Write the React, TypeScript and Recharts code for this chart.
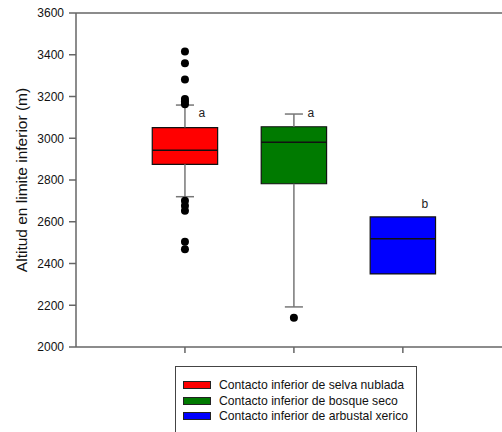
import React from "react";
import {
  ComposedChart,
  XAxis,
  YAxis,
  Scatter,
  ReferenceArea,
  ReferenceLine,
} from "recharts";

const FONT = "Arial, 'Liberation Sans', sans-serif";

// grupos (posición en el eje x = 1, 2, 3)
const groups = [
  "Contacto inferior de selva nublada",
  "Contacto inferior de bosque seco",
  "Contacto inferior de arbustal xerico",
];
const colors = ["#ff0000", "#007a00", "#0000ff"];
const positions = [1, 2, 3];

// resumen de cajas (m)
const q1 = [2875, 2782, 2350];
const median = [2942, 2981, 2519];
const q3 = [3051, 3055, 2623];
const whiskerLow = [2720, 2192, null];
const whiskerHigh = [3159, 3116, null];

// valores atípicos
const outliers = [
  { x: 1, y: 3415 },
  { x: 1, y: 3359 },
  { x: 1, y: 3282 },
  { x: 1, y: 3188 },
  { x: 1, y: 3176 },
  { x: 1, y: 3163 },
  { x: 1, y: 2701 },
  { x: 1, y: 2677 },
  { x: 1, y: 2653 },
  { x: 1, y: 2504 },
  { x: 1, y: 2468 },
  { x: 2, y: 2140 },
];

// letras de significancia
const letters = ["a", "a", "b"];
const letterY = [3121, 3121, 2685];

const yTicks = [2000, 2200, 2400, 2600, 2800, 3000, 3200, 3400, 3600];

const BOX_HALF = 0.3;
const CAP_HALF = 0.083;
const AXIS = "#666";
const WHISKER = "#777";

const letterData = letters.map((l, i) => ({ x: positions[i], y: letterY[i], label: l }));

function LetterShape(props: any) {
  const { cx, cy, payload } = props;
  const dx = payload.label === "b" ? 22 : 17;
  return (
    <text
      x={cx + dx}
      y={cy}
      fontSize={12}
      fontFamily={FONT}
      fill="#222"
      textAnchor="middle"
      dominantBaseline="central"
    >
      {payload.label}
    </text>
  );
}

function YLabel(props: any) {
  const vb = props.viewBox || { x: 0, y: 0, height: 0 };
  const x = 21;
  const y = vb.y + vb.height / 2;
  return (
    <text
      x={x}
      y={y}
      transform={`rotate(-90 ${x} ${y})`}
      textAnchor="middle"
      dominantBaseline="central"
      fontSize={15.5}
      fontFamily={FONT}
      fill="#111"
    >
      Altitud en limite inferior (m)
    </text>
  );
}

export default function App() {
  return (
    <div style={{ position: "absolute", left: 0, top: 0, width: 502, height: 432, background: "#fff" }}>
      <ComposedChart
        width={502}
        height={432}
        margin={{ top: 13, right: 0, bottom: 75, left: 0 }}
      >
        <XAxis
          type="number"
          dataKey="x"
          domain={[0, 3.91]}
          ticks={positions}
          tickFormatter={() => ""}
          stroke={AXIS}
          strokeWidth={1.5}
          tickSize={6}
          height={10}
          allowDataOverflow
        />
        <YAxis
          type="number"
          dataKey="y"
          domain={[2000, 3600]}
          ticks={yTicks}
          width={76}
          stroke={AXIS}
          strokeWidth={1.5}
          tickSize={7}
          tickMargin={5}
          tick={{ fontSize: 12, fontFamily: FONT, fill: "#111" }}
          label={<YLabel />}
          allowDataOverflow
        />
        <ReferenceLine y={3600} stroke={AXIS} strokeWidth={1.5} />

        {positions.map((p, i) =>
          whiskerLow[i] != null ? (
            <ReferenceLine
              key={`wl${i}`}
              segment={[{ x: p, y: whiskerLow[i] as number }, { x: p, y: q1[i] }]}
              stroke={WHISKER}
              strokeWidth={1.5}
            />
          ) : null
        )}
        {positions.map((p, i) =>
          whiskerHigh[i] != null ? (
            <ReferenceLine
              key={`wh${i}`}
              segment={[{ x: p, y: q3[i] }, { x: p, y: whiskerHigh[i] as number }]}
              stroke={WHISKER}
              strokeWidth={1.5}
            />
          ) : null
        )}
        {positions.map((p, i) =>
          whiskerLow[i] != null ? (
            <ReferenceLine
              key={`cl${i}`}
              segment={[
                { x: p - CAP_HALF, y: whiskerLow[i] as number },
                { x: p + CAP_HALF, y: whiskerLow[i] as number },
              ]}
              stroke={WHISKER}
              strokeWidth={1.5}
            />
          ) : null
        )}
        {positions.map((p, i) =>
          whiskerHigh[i] != null ? (
            <ReferenceLine
              key={`ch${i}`}
              segment={[
                { x: p - CAP_HALF, y: whiskerHigh[i] as number },
                { x: p + CAP_HALF, y: whiskerHigh[i] as number },
              ]}
              stroke={WHISKER}
              strokeWidth={1.5}
            />
          ) : null
        )}

        {positions.map((p, i) => (
          <ReferenceArea
            key={`box${i}`}
            x1={p - BOX_HALF}
            x2={p + BOX_HALF}
            y1={q1[i]}
            y2={q3[i]}
            fill={colors[i]}
            fillOpacity={1}
            stroke="#111"
            strokeWidth={1.2}
          />
        ))}
        {positions.map((p, i) => (
          <ReferenceLine
            key={`med${i}`}
            segment={[
              { x: p - BOX_HALF, y: median[i] },
              { x: p + BOX_HALF, y: median[i] },
            ]}
            stroke="#111"
            strokeWidth={1.5}
          />
        ))}

        <Scatter
          data={outliers}
          fill="#000"
          shape={(props: any) => <circle cx={props.cx} cy={props.cy} r={4} fill="#000" />}
          isAnimationActive={false}
        />
        <Scatter data={letterData} shape={<LetterShape />} isAnimationActive={false} />
      </ComposedChart>

      <div
        style={{
          position: "absolute",
          left: 175,
          top: 366,
          width: 242,
          height: 80,
          border: "1px solid #444",
          boxSizing: "border-box",
          fontFamily: FONT,
          fontSize: 12.2,
          color: "#111",
        }}
      >
        {groups.map((g, i) => (
          <div
            key={g}
            style={{
              position: "absolute",
              left: 7,
              top: 11 + i * 15.5,
              height: 14,
              display: "flex",
              alignItems: "center",
              whiteSpace: "nowrap",
            }}
          >
            <span
              style={{
                display: "inline-block",
                width: 28,
                height: 8,
                background: colors[i],
                border: "1px solid #222",
                boxSizing: "border-box",
                marginRight: 8,
              }}
            />
            {g}
          </div>
        ))}
      </div>
    </div>
  );
}
